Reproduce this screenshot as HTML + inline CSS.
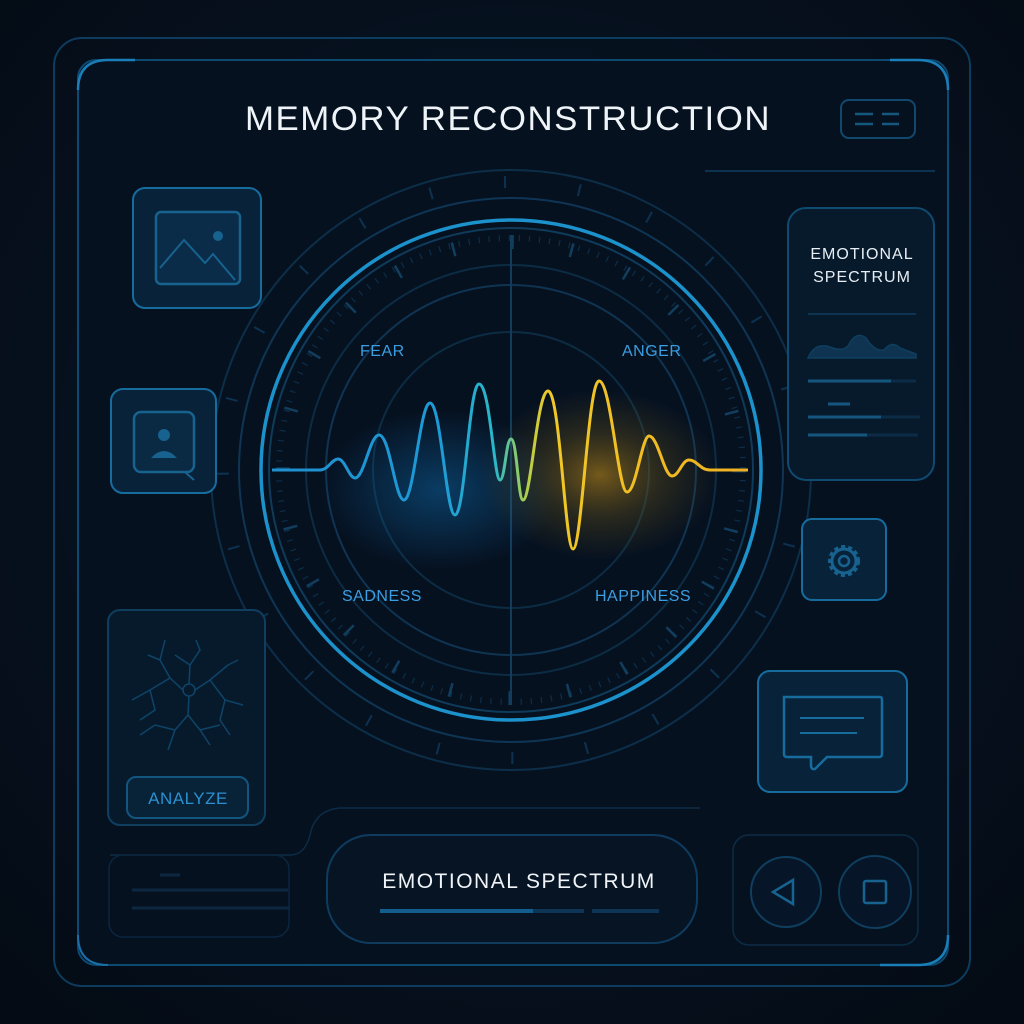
<!DOCTYPE html>
<html><head><meta charset="utf-8"><style>
html,body{margin:0;padding:0;background:#050d18;}
svg{display:block}
text{font-family:"Liberation Sans","DejaVu Sans",sans-serif}
</style></head><body>
<svg width="1024" height="1024" viewBox="0 0 1024 1024" xmlns="http://www.w3.org/2000/svg">
<defs>
<radialGradient id="bg" cx="50%" cy="45%" r="70%"><stop offset="0" stop-color="#0a1a2c"/><stop offset="1" stop-color="#040b15"/></radialGradient>
<radialGradient id="gb" cx="0.5" cy="0.5" r="0.5"><stop offset="0" stop-color="#0d5f9a" stop-opacity="0.55"/><stop offset="1" stop-color="#0d5f9a" stop-opacity="0"/></radialGradient>
<radialGradient id="go" cx="0.5" cy="0.5" r="0.5"><stop offset="0" stop-color="#b08018" stop-opacity="0.65"/><stop offset="0.5" stop-color="#7a6018" stop-opacity="0.3"/><stop offset="1" stop-color="#6a5a18" stop-opacity="0"/></radialGradient>
<linearGradient id="wave" x1="272" y1="0" x2="748" y2="0" gradientUnits="userSpaceOnUse">
<stop offset="0" stop-color="#1f8fd0"/><stop offset="0.35" stop-color="#1e9ad6"/><stop offset="0.47" stop-color="#2cb8c8"/><stop offset="0.53" stop-color="#a8d050"/><stop offset="0.58" stop-color="#f0c828"/><stop offset="1" stop-color="#f0b020"/></linearGradient>
</defs>
<rect width="1024" height="1024" fill="url(#bg)"/>
<rect x="54" y="38" width="916" height="948" rx="28" fill="none" stroke="#0c3c5e" stroke-width="2"/>
<rect x="78" y="60" width="870" height="905" rx="18" fill="#061120" stroke="#0d4a72" stroke-width="2"/>
<path d="M78 90 Q78 60 108 60 L135 60" fill="none" stroke="#1a7fb8" stroke-width="2.5"/>
<path d="M890 60 L918 60 Q948 60 948 90" fill="none" stroke="#1a7fb8" stroke-width="2.5"/>
<path d="M948 935 Q948 965 918 965 L880 965" fill="none" stroke="#1a7fb8" stroke-width="2.5"/>
<path d="M78 935 Q78 965 108 965" fill="none" stroke="#1a6fa8" stroke-width="2"/>
<text x="508" y="130" font-size="34" fill="#eef4f8" text-anchor="middle" letter-spacing="1.5" textLength="526" lengthAdjust="spacingAndGlyphs">MEMORY RECONSTRUCTION</text>
<rect x="841" y="100" width="74" height="38" rx="8" fill="none" stroke="#12486e" stroke-width="2"/>
<g stroke="#14587e" stroke-width="2.5"><line x1="855" y1="114" x2="873" y2="114"/><line x1="882" y1="114" x2="899" y2="114"/><line x1="855" y1="124" x2="873" y2="124"/><line x1="882" y1="124" x2="899" y2="124"/></g>
<line x1="705" y1="171" x2="935" y2="171" stroke="#0c3450" stroke-width="2"/>
<g fill="none">
<circle cx="511" cy="470" r="300" stroke="#0c2e48" stroke-width="2"/>
<circle cx="511" cy="470" r="272" stroke="#0e3654" stroke-width="2"/>
<circle cx="511" cy="470" r="250" stroke="#1c92cc" stroke-width="3.5"/>
<circle cx="511" cy="470" r="242" stroke="#0f3b5a" stroke-width="2"/>
<circle cx="511" cy="470" r="232" stroke="#0c2e48" stroke-width="6" stroke-dasharray="1.2 8.9"/>
<circle cx="511" cy="470" r="228" stroke="#123e5e" stroke-width="14" stroke-dasharray="2.5 57.2"/>
<circle cx="511" cy="470" r="205" stroke="#0c2c44" stroke-width="2"/>
<circle cx="511" cy="470" r="185" stroke="#0f3452" stroke-width="2"/>
<circle cx="511" cy="470" r="138" stroke="#0c2c44" stroke-width="2"/>
<circle cx="511" cy="470" r="288" stroke="#0d3250" stroke-width="12" stroke-dasharray="2 73"/>
<line x1="511" y1="235" x2="511" y2="705" stroke="#123c5c" stroke-width="2"/>
</g>
<ellipse cx="440" cy="490" rx="120" ry="80" fill="url(#gb)"/>
<ellipse cx="600" cy="475" rx="120" ry="85" fill="url(#go)"/>
<g fill="#3b9ee0" font-size="16" letter-spacing="0.5">
<text x="360" y="356">FEAR</text><text x="622" y="356">ANGER</text>
<text x="342" y="601">SADNESS</text><text x="595" y="601">HAPPINESS</text></g>
<path d="M272 470 L320 470 C328 470 332 459 338 459 C345 459 349 478 355 478 C364 478 370 435 379 435 C390 435 395 500 404 500 C414 500 420 403 430 403 C441 403 446 515 455 515 C465 515 469 384 479 384 C490 384 494 480 500 480 C505 480 506 439 511 439 C517 439 518 500 523 500 C531 500 537 391 548 391 C560 391 565 549 573 549 C582 549 588 381 599 381 C611 381 618 492 627 492 C636 492 642 436 649 436 C658 436 664 476 672 476 C679 476 682 460 689 460 C697 460 700 470 710 470 L748 470" fill="none" stroke="url(#wave)" stroke-width="3"/>
<rect x="133" y="188" width="128" height="120" rx="12" fill="#08223a" stroke="#176c9e" stroke-width="2"/>
<rect x="156" y="212" width="84" height="72" rx="5" fill="#0a2c48" stroke="#17628e" stroke-width="2.5"/>
<path d="M160 268 L184 240 L205 263 L213 254 L235 280" fill="none" stroke="#17628e" stroke-width="2"/>
<circle cx="218" cy="236" r="5" fill="#17628e"/>
<rect x="111" y="389" width="105" height="104" rx="12" fill="#08223a" stroke="#176c9e" stroke-width="2"/>
<rect x="134" y="412" width="60" height="60" rx="7" fill="#0a2a44" stroke="#17628e" stroke-width="2.5"/>
<path d="M185 472 L194 480" stroke="#17628e" stroke-width="2"/>
<circle cx="164" cy="435" r="6" fill="#17628e"/><path d="M151 458 Q164 444 177 458 Z" fill="#17628e"/>
<rect x="108" y="610" width="157" height="215" rx="12" fill="#071a2c" stroke="#0f3e5e" stroke-width="2"/>
<g fill="none" stroke="#0e4468" stroke-width="1.5">
<circle cx="189" cy="690" r="6"/>
<path d="M183 690 L170 678 L160 660 L148 655 M170 678 L150 690 L132 700 M195 690 L210 680 L228 665 M210 680 L225 700 L243 705 M189 696 L188 715 L175 730 L168 750 M188 715 L200 730 L210 745 M175 730 L155 725 L140 735 M189 684 L190 665 L200 650 L196 640 M190 665 L175 655 M150 690 L155 710 L140 720 M225 700 L220 720 L230 735 M200 730 L220 725 M160 660 L165 640 M228 665 L238 660"/></g>
<rect x="127" y="777" width="121" height="41" rx="9" fill="#082238" stroke="#12557e" stroke-width="2"/>
<text x="188" y="804" font-size="17" fill="#2a90d0" text-anchor="middle" letter-spacing="0.5">ANALYZE</text>
<path d="M110 855 L290 855 Q305 855 310 835 Q315 810 340 808 L700 808" fill="none" stroke="#0c2c46" stroke-width="1.5"/>
<rect x="109" y="855" width="180" height="82" rx="14" fill="none" stroke="#0b2640" stroke-width="1.5"/>
<g stroke="#0c2740" stroke-width="3"><line x1="132" y1="890" x2="288" y2="890"/><line x1="132" y1="908" x2="290" y2="908"/><line x1="160" y1="875" x2="180" y2="875"/></g>
<rect x="327" y="835" width="370" height="108" rx="44" fill="#061424" stroke="#0f3c5e" stroke-width="2"/>
<text x="519" y="888" font-size="21" fill="#f0f4f8" text-anchor="middle" letter-spacing="1.5">EMOTIONAL SPECTRUM</text>
<line x1="380" y1="911" x2="533" y2="911" stroke="#145e8e" stroke-width="4"/>
<line x1="533" y1="911" x2="584" y2="911" stroke="#0d3656" stroke-width="4"/>
<line x1="592" y1="911" x2="659" y2="911" stroke="#0d3656" stroke-width="4"/>
<rect x="788" y="208" width="146" height="272" rx="18" fill="#071a2c" stroke="#0f4a70" stroke-width="2"/>
<text x="862" y="259" font-size="16" fill="#e8eef4" text-anchor="middle" letter-spacing="1">EMOTIONAL</text>
<text x="862" y="282" font-size="16" fill="#e8eef4" text-anchor="middle" letter-spacing="1">SPECTRUM</text>
<line x1="808" y1="314" x2="916" y2="314" stroke="#0f3452" stroke-width="2"/>
<path d="M808 358 Q815 342 830 347 Q842 352 848 346 Q856 330 866 338 Q875 352 884 350 Q892 340 900 348 L916 354 L916 358 Z" fill="#0e3452" stroke="#0f3e5e" stroke-width="1.5"/>
<line x1="808" y1="381" x2="891" y2="381" stroke="#14567e" stroke-width="3"/><line x1="891" y1="381" x2="916" y2="381" stroke="#0c2c46" stroke-width="3"/>
<line x1="828" y1="404" x2="850" y2="404" stroke="#14567e" stroke-width="3"/>
<line x1="808" y1="417" x2="881" y2="417" stroke="#14567e" stroke-width="3"/><line x1="881" y1="417" x2="920" y2="417" stroke="#0c2c46" stroke-width="3"/>
<line x1="808" y1="435" x2="867" y2="435" stroke="#14567e" stroke-width="3"/><line x1="867" y1="435" x2="918" y2="435" stroke="#0c2c46" stroke-width="3"/>
<rect x="802" y="519" width="84" height="81" rx="10" fill="#08223a" stroke="#176c9e" stroke-width="2"/>
<circle cx="844" cy="561" r="14" fill="none" stroke="#17628e" stroke-width="4" stroke-dasharray="4 3"/>
<circle cx="844" cy="561" r="12" fill="none" stroke="#17628e" stroke-width="3"/>
<circle cx="844" cy="561" r="5" fill="none" stroke="#17628e" stroke-width="2.5"/>
<rect x="758" y="671" width="149" height="121" rx="12" fill="#08223a" stroke="#176c9e" stroke-width="2"/>
<path d="M784 697 L880 697 Q882 697 882 700 L882 754 Q882 757 879 757 L827 757 L815 769 Q811 770 811 765 L811 757 L787 757 Q784 757 784 754 Z" fill="none" stroke="#176c9e" stroke-width="2.5"/>
<line x1="800" y1="718" x2="864" y2="718" stroke="#176c9e" stroke-width="2"/>
<line x1="800" y1="733" x2="857" y2="733" stroke="#176c9e" stroke-width="2"/>
<rect x="733" y="835" width="185" height="110" rx="16" fill="none" stroke="#0c2c46" stroke-width="1.5"/>
<circle cx="786" cy="892" r="35" fill="#061628" stroke="#0f3e5e" stroke-width="2"/>
<path d="M793 880 L793 904 L773 892 Z" fill="none" stroke="#17628e" stroke-width="2.5"/>
<circle cx="875" cy="892" r="36" fill="#061628" stroke="#0f3e5e" stroke-width="2"/>
<rect x="864" y="881" width="22" height="22" rx="2" fill="none" stroke="#17628e" stroke-width="2.5"/>
</svg>
</body></html>
